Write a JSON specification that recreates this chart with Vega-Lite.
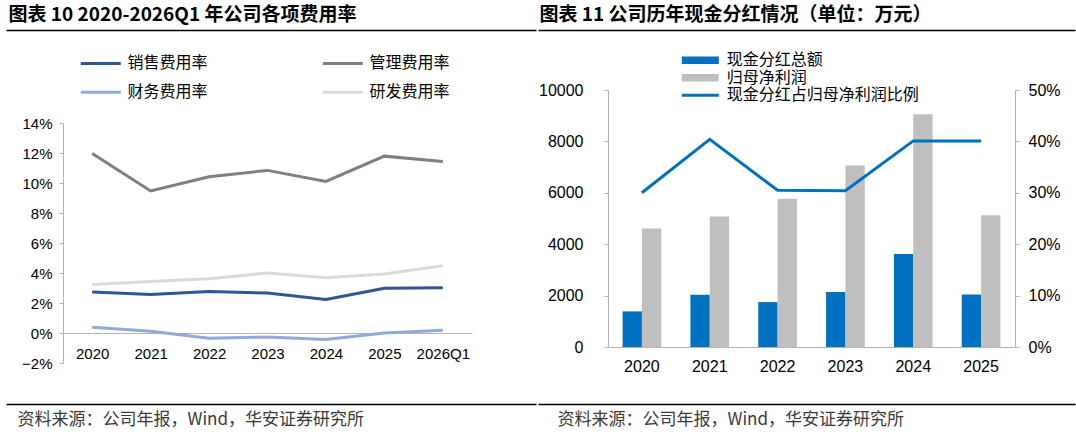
{
  "$schema": "https://vega.github.io/schema/vega-lite/v6.json",
  "background": "white",
  "padding": {"left": 5, "top": 6, "right": 4, "bottom": 2},
  "spacing": -56,
  "resolve": {"scale": {"color": "independent", "stroke": "independent"}, "legend": {"color": "independent", "stroke": "independent"}},
  "config": {
    "view": {"stroke": null},
    "font": "Noto Sans CJK SC",
    "axis": {"labelFont": "Liberation Sans", "labelColor": "black", "domainColor": "#B4B4B4", "tickColor": "#B4B4B4", "grid": false},
    "legend": {"labelFont": "Noto Sans CJK SC", "labelColor": "black", "labelFontSize": 16, "padding": 0, "labelLimit": 400}
  },
  "hconcat": [
    {
      "spacing": 24,
      "resolve": {"scale": {"color": "independent"}, "legend": {"color": "independent"}},
      "vconcat": [
        {
          "width": 10,
          "height": 1,
          "title": {"text": "图表 10 2020-2026Q1 年公司各项费用率", "anchor": "start", "frame": "bounds", "fontSize": 19, "fontWeight": "bold", "color": "black", "offset": 4, "dx": 3},
          "data": {"values": [{"v": 0}]},
          "mark": {"type": "tick", "opacity": 0},
          "encoding": {
            "x": {"field": "v", "type": "quantitative", "scale": {"domain": [0, 1], "range": [-57, 473]},
                  "axis": {"domainColor": "black", "domainWidth": 1.5, "ticks": false, "labels": false, "title": null}}
          }
        },
        {
          "width": 409,
          "height": 240,
          "data": {
            "values": [
              {"年份": "2020", "类别": "销售费用率", "值": 0.0274},
              {"年份": "2021", "类别": "销售费用率", "值": 0.0256},
              {"年份": "2022", "类别": "销售费用率", "值": 0.0276},
              {"年份": "2023", "类别": "销售费用率", "值": 0.0267},
              {"年份": "2024", "类别": "销售费用率", "值": 0.0223},
              {"年份": "2025", "类别": "销售费用率", "值": 0.0298},
              {"年份": "2026Q1", "类别": "销售费用率", "值": 0.0302},
              {"年份": "2020", "类别": "管理费用率", "值": 0.1196},
              {"年份": "2021", "类别": "管理费用率", "值": 0.0947},
              {"年份": "2022", "类别": "管理费用率", "值": 0.1042},
              {"年份": "2023", "类别": "管理费用率", "值": 0.1084},
              {"年份": "2024", "类别": "管理费用率", "值": 0.1011},
              {"年份": "2025", "类别": "管理费用率", "值": 0.1179},
              {"年份": "2026Q1", "类别": "管理费用率", "值": 0.1143},
              {"年份": "2020", "类别": "财务费用率", "值": 0.0038},
              {"年份": "2021", "类别": "财务费用率", "值": 0.0011},
              {"年份": "2022", "类别": "财务费用率", "值": -0.0035},
              {"年份": "2023", "类别": "财务费用率", "值": -0.0026},
              {"年份": "2024", "类别": "财务费用率", "值": -0.0044},
              {"年份": "2025", "类别": "财务费用率", "值": 0.0},
              {"年份": "2026Q1", "类别": "财务费用率", "值": 0.0018},
              {"年份": "2020", "类别": "研发费用率", "值": 0.0324},
              {"年份": "2021", "类别": "研发费用率", "值": 0.0344},
              {"年份": "2022", "类别": "研发费用率", "值": 0.0362},
              {"年份": "2023", "类别": "研发费用率", "值": 0.0400},
              {"年份": "2024", "类别": "研发费用率", "值": 0.0369},
              {"年份": "2025", "类别": "研发费用率", "值": 0.0393},
              {"年份": "2026Q1", "类别": "研发费用率", "值": 0.0448}
            ]
          },
          "mark": {"type": "line", "strokeWidth": 3},
          "encoding": {
            "x": {
              "field": "年份", "type": "ordinal", "sort": null,
              "scale": {"type": "point", "padding": 0.5},
              "axis": {"labelAngle": 0, "ticks": false, "labelPadding": 13, "offset": -30, "labelFontSize": 15,
                       "title": "x", "titleOpacity": 0, "titleFontSize": 15, "titlePadding": 4}
            },
            "y": {
              "field": "值", "type": "quantitative",
              "scale": {"domain": [-0.02, 0.14], "nice": false, "zero": false},
              "axis": {"values": [-0.02, 0, 0.02, 0.04, 0.06, 0.08, 0.1, 0.12, 0.14], "format": ".0%", "tickSize": 4, "labelPadding": 7, "labelFontSize": 15, "title": null}
            },
            "color": {
              "field": "类别", "type": "nominal",
              "scale": {"domain": ["销售费用率", "财务费用率", "管理费用率", "研发费用率"], "range": ["#2F5597", "#8EAADB", "#7F7F7F", "#D9D9D9"]},
              "legend": {"orient": "none", "legendX": 29.3, "legendY": -68.3, "title": null, "columns": 2, "columnPadding": 108,
                         "rowPadding": 12, "symbolType": "M-3,0H3", "symbolSize": 178, "symbolStrokeWidth": 3, "labelOffset": 18.3}
            }
          }
        },
        {
          "width": 10,
          "height": 1,
          "title": {"text": "资料来源：公司年报，Wind，华安证券研究所", "orient": "bottom", "anchor": "start", "frame": "bounds", "fontSize": 17, "fontWeight": "normal", "color": "#3A3A3A", "offset": 7, "dx": 12},
          "data": {"values": [{"v": 0}]},
          "mark": {"type": "tick", "opacity": 0},
          "encoding": {
            "x": {"field": "v", "type": "quantitative", "scale": {"domain": [0, 1], "range": [-57, 473]},
                  "axis": {"orient": "top", "domainColor": "black", "domainWidth": 1.5, "ticks": false, "labels": false, "title": null}}
          }
        }
      ]
    },
    {
      "spacing": 22,
      "resolve": {"scale": {"color": "independent", "stroke": "independent"}, "legend": {"color": "independent", "stroke": "independent"}},
      "vconcat": [
        {
          "width": 10,
          "height": 1,
          "title": {"text": "图表 11 公司历年现金分红情况（单位：万元）", "anchor": "start", "frame": "bounds", "fontSize": 19, "fontWeight": "bold", "color": "black", "offset": 4, "dx": 2},
          "data": {"values": [{"v": 0}]},
          "mark": {"type": "tick", "opacity": 0},
          "encoding": {
            "x": {"field": "v", "type": "quantitative", "scale": {"domain": [0, 1], "range": [-70, 467]},
                  "axis": {"domainColor": "black", "domainWidth": 1.5, "ticks": false, "labels": false, "title": null}}
          }
        },
        {
          "width": 407,
          "height": 257,
          "data": {
            "values": [
              {"年份": "2020", "现金分红总额": 1386, "归母净利润": 4611, "比例": 0.300},
              {"年份": "2021", "现金分红总额": 2034, "归母净利润": 5078, "比例": 0.404},
              {"年份": "2022", "现金分红总额": 1749, "归母净利润": 5764, "比例": 0.305},
              {"年份": "2023", "现金分红总额": 2137, "归母净利润": 7060, "比例": 0.304},
              {"年份": "2024", "现金分红总额": 3614, "归母净利润": 9055, "比例": 0.401},
              {"年份": "2025", "现金分红总额": 2047, "归母净利润": 5130, "比例": 0.401}
            ]
          },
          "encoding": {
            "x": {
              "field": "年份", "type": "nominal",
              "scale": {"paddingInner": 0.43, "paddingOuter": 0.215},
              "axis": {"labelAngle": 0, "ticks": false, "labelPadding": 11, "labelFontSize": 16,
                       "title": "x", "titleOpacity": 0, "titleFontSize": 8, "titlePadding": 0}
            }
          },
          "layer": [
            {
              "transform": [{"fold": ["现金分红总额", "归母净利润"], "as": ["系列", "金额"]}],
              "mark": {"type": "bar"},
              "encoding": {
                "xOffset": {"field": "系列", "type": "nominal", "sort": ["现金分红总额", "归母净利润"]},
                "y": {
                  "field": "金额", "type": "quantitative",
                  "scale": {"domain": [0, 10000], "nice": false},
                  "axis": {"values": [0, 2000, 4000, 6000, 8000, 10000], "format": "d", "tickSize": 4, "labelPadding": 21, "labelFontSize": 16, "title": null}
                },
                "color": {
                  "field": "系列", "type": "nominal",
                  "scale": {"domain": ["现金分红总额", "归母净利润"], "range": ["#0070C0", "#BFBFBF"]},
                  "legend": {"orient": "none", "direction": "vertical", "legendX": 84.3, "legendY": -37.7, "title": null,
                             "symbolType": "M-3,-0.6H3V0.6H-3Z", "symbolSize": 152, "labelOffset": 18.4, "rowPadding": 1.5}
                }
              }
            },
            {
              "mark": {"type": "line", "strokeWidth": 3, "color": "#0070C0"},
              "encoding": {
                "y": {
                  "field": "比例", "type": "quantitative",
                  "scale": {"domain": [0, 0.5], "nice": false},
                  "axis": {"orient": "right", "values": [0, 0.1, 0.2, 0.3, 0.4, 0.5], "format": ".0%", "tickSize": 4, "labelPadding": 9, "labelFontSize": 16, "title": null}
                },
                "stroke": {
                  "datum": "现金分红占归母净利润比例",
                  "scale": {"range": ["#0070C0"]},
                  "legend": {"orient": "none", "direction": "vertical", "legendX": 84.3, "legendY": -2.7, "title": null,
                             "symbolType": "M-3,0H3", "symbolSize": 152, "symbolStrokeWidth": 3, "labelOffset": 18.4}
                }
              }
            }
          ],
          "resolve": {"scale": {"y": "independent"}}
        },
        {
          "width": 10,
          "height": 1,
          "title": {"text": "资料来源：公司年报，Wind，华安证券研究所", "orient": "bottom", "anchor": "start", "frame": "bounds", "fontSize": 17, "fontWeight": "normal", "color": "#3A3A3A", "offset": 7, "dx": 20},
          "data": {"values": [{"v": 0}]},
          "mark": {"type": "tick", "opacity": 0},
          "encoding": {
            "x": {"field": "v", "type": "quantitative", "scale": {"domain": [0, 1], "range": [-70, 467]},
                  "axis": {"orient": "top", "domainColor": "black", "domainWidth": 1.5, "ticks": false, "labels": false, "title": null}}
          }
        }
      ]
    }
  ]
}
